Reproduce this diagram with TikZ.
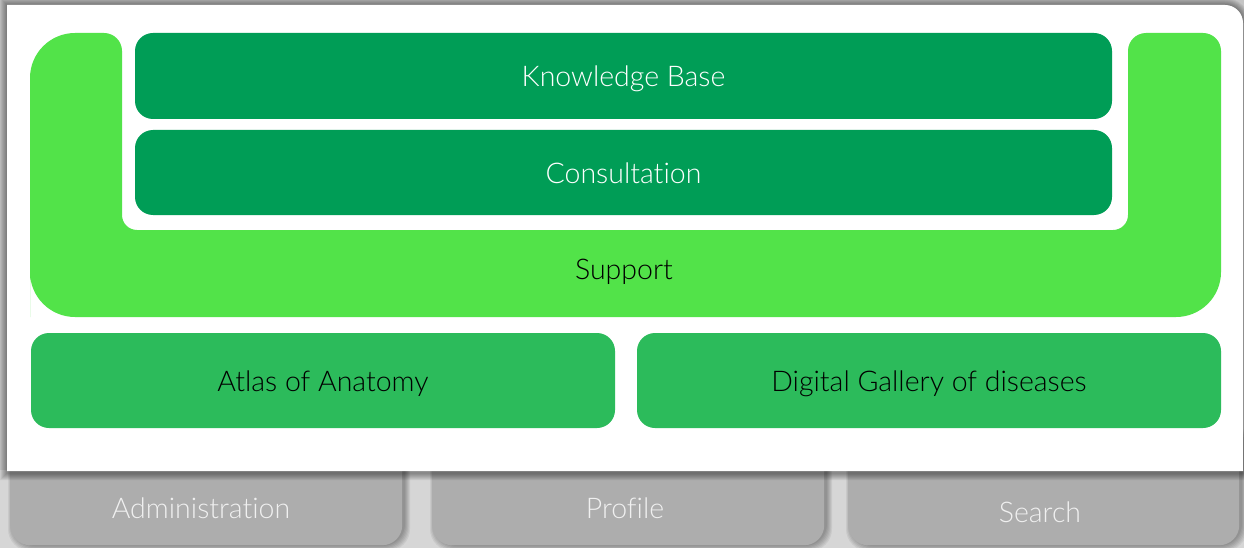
\documentclass[tikz,border=0pt]{standalone}
\usepackage{fontspec}
\setmainfont{Lato Light}[Ligatures={NoCommon,NoRare}]
\definecolor{bgG}{RGB}{214,214,214}
\definecolor{supG}{RGB}{82,227,73}
\definecolor{kbG}{RGB}{0,157,86}
\definecolor{modG}{RGB}{44,187,91}
\definecolor{tabG}{RGB}{173,173,173}
\tikzset{
  txt/.style={font=\fontsize{28.5}{32}\selectfont, text height=24pt, text depth=2pt, inner sep=0pt},
  box/.style={rounded corners=18pt, inner sep=0pt, txt},
  kb/.style={box, fill=kbG, text=white},
  mod/.style={box, fill=modG, text=black},
  tab/.style={rounded corners=20pt, inner sep=0pt, fill=tabG},
  tabtxt/.style={txt, text=white!94!black},
  shad/.style={black, opacity=0.06},
}
\begin{document}
\begin{tikzpicture}[x=1pt,y=-1pt]
\useasboundingbox (0,0) rectangle (1244,548);
\fill[bgG] (0,0) rectangle (1244,548);
% tab shadows
\foreach \d in {0,1,2,3,4,5}{
  \fill[shad, rounded corners=22pt] (10-\d+3,420) rectangle (402+\d+3,545+\d+1);
  \fill[shad, rounded corners=22pt] (432-\d+3,420) rectangle (824+\d+3,545+\d+1);
  \fill[shad, rounded corners=22pt] (848-\d+3,420) rectangle (1239+\d+3,545+\d+1);
}
% tabs
\node[tab, minimum width=392pt, minimum height=125pt, anchor=north west] (adm) at (10,420) {};
\node[tab, minimum width=392pt, minimum height=125pt, anchor=north west] (pro) at (432,420) {};
\node[tab, minimum width=391pt, minimum height=125pt, anchor=north west] (sea) at (848,420) {};
\node[tabtxt] (admt) at (201,507) {Administration};
\node[tabtxt] (prot) at (625,507) {Profile};
\node[tabtxt] (seat) at (1040,511) {Search};
% panel shadow
\fill[black, opacity=0.08] (0,0) rectangle (1244,470);
\foreach \d in {1,2,3,4,5,6,7}{
  \fill[shad] (7-\d,473+\d) -- (7-\d,5-\d) [rounded corners=18pt+\d pt] -- (1243+\d,5-\d) [sharp corners] -- (1243+\d,473+\d) -- cycle;
}
\fill[white] (7,471) -- (7,5) [rounded corners=18pt] -- (1243,5) [sharp corners] -- (1243,471) -- cycle;
% support U
\fill[supG] (30,317) [rounded corners=45pt] -- (30,317) -- (30,33) [rounded corners=18pt] -- (122,33)
  [rounded corners=15pt] -- (122,230) -- (1128,230) [rounded corners=18pt] -- (1128,33) -- (1221,33)
  [rounded corners=45pt] -- (1221,317) -- (30,317) [sharp corners] -- cycle;
\node[txt] (sup) at (624,268) {Support};
% knowledge base & consultation
\node[kb, minimum width=977pt, minimum height=86pt] (kbase) at (623.5,76) {Knowledge Base};
\node[kb, minimum width=977pt, minimum height=85pt] (cons) at (623.5,172.5) {Consultation};
% modules
\node[mod, minimum width=584pt, minimum height=95pt] (atlas) at (323,380.5) {Atlas of Anatomy};
\node[mod, minimum width=584pt, minimum height=95pt] (gal) at (929,380.5) {Digital Gallery of diseases};
\end{tikzpicture}
\end{document}
